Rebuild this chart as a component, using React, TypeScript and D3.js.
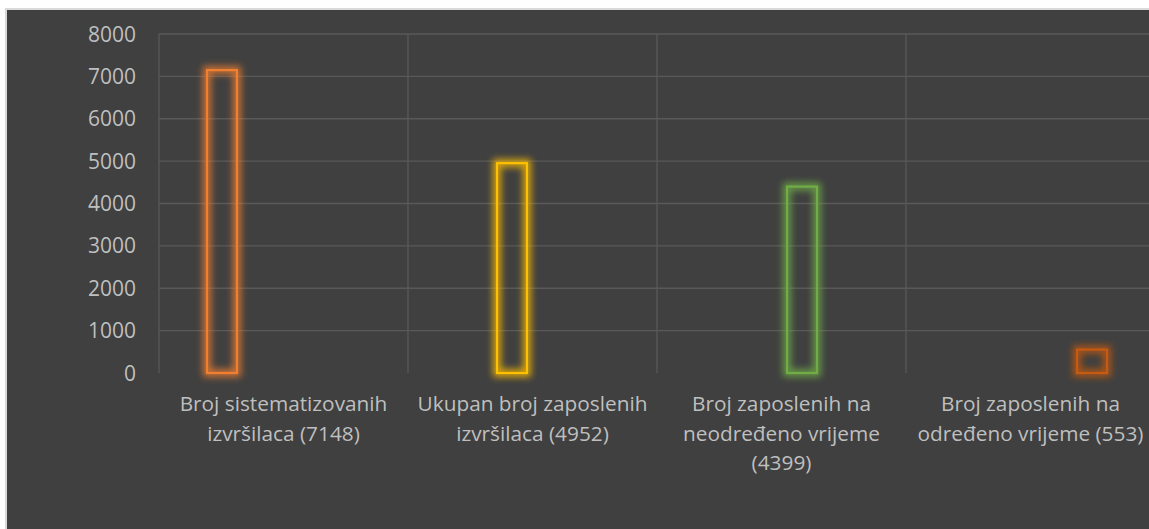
import React from "react";
import * as d3 from "d3";

const categories = [
  "Broj sistematizovanih\nizvršilaca (7148)",
  "Ukupan broj zaposlenih\nizvršilaca (4952)",
  "Broj zaposlenih na\nneodređeno vrijeme\n(4399)",
  "Broj zaposlenih na\nodređeno vrijeme (553)",
];
const seriesNames = ["s1", "s2", "s3", "s4"];
const values = [7148, 4952, 4399, 553];
const seriesColors = ["#F07F30", "#FFC000", "#70AD47", "#C55A11"];
const yTicks = [0, 1000, 2000, 3000, 4000, 5000, 6000, 7000, 8000];

const W = 1149;
const H = 529;
const plotLeft = 159;
const plotRight = 1155;
const plotTop = 34;
const plotBottom = 373;
const FONT = "'Open Sans', 'DejaVu Sans', sans-serif";
const TEXT = "#bfbfbf";

export default function App() {
  const y = d3.scaleLinear().domain([0, 8000]).range([plotBottom, plotTop]);
  const x0 = d3.scaleBand<string>().domain(categories).range([plotLeft, plotRight]).padding(0);
  const x1 = d3
    .scaleBand<string>()
    .domain(seriesNames)
    .range([0, x0.bandwidth()])
    .paddingInner(0.27)
    .paddingOuter(1.17);

  return (
    <svg
      width={W}
      height={H}
      style={{ position: "fixed", left: 0, top: 0, display: "block" }}
    >
      <defs>
        <filter id="glow" x="-50%" y="-50%" width="200%" height="200%">
          <feGaussianBlur stdDeviation="3.5" />
        </filter>
      </defs>
      <rect x={0} y={0} width={W} height={H} fill="#ffffff" />
      <rect x={5} y={8} width={W} height={H} fill="#d9d9d9" />
      <rect x={7} y={10} width={W} height={H} fill="#404040" />

      {yTicks
        .filter((t) => t > 0)
        .map((t) => (
          <line
            key={"h" + t}
            x1={plotLeft}
            x2={W}
            y1={y(t)}
            y2={y(t)}
            stroke="#595959"
            strokeWidth={1.3}
          />
        ))}
      {categories.map((c) => (
        <line
          key={"v" + c}
          x1={x0(c)!}
          x2={x0(c)!}
          y1={plotTop}
          y2={plotBottom}
          stroke="#595959"
          strokeWidth={1.3}
        />
      ))}

      {yTicks.map((t) => (
        <text
          key={"t" + t}
          x={136}
          y={y(t)}
          dy="0.36em"
          textAnchor="end"
          fontFamily={FONT}
          fontSize={21}
          fill={TEXT}
        >
          {t}
        </text>
      ))}

      {values.map((v, i) => {
        const bx = x0(categories[i])! + x1(seriesNames[i])!;
        const bw = x1.bandwidth();
        const by = y(v);
        const bh = y(0) - y(v);
        return (
          <g key={"b" + i}>
            <rect
              x={bx}
              y={by}
              width={bw}
              height={bh}
              fill="none"
              stroke={seriesColors[i]}
              strokeWidth={8}
              opacity={0.8}
              filter="url(#glow)"
            />
            <rect
              x={bx}
              y={by}
              width={bw}
              height={bh}
              fill="none"
              stroke={seriesColors[i]}
              strokeWidth={2.2}
            />
          </g>
        );
      })}

      {categories.map((c) => {
        const cx = x0(c)! + x0.bandwidth() / 2;
        return (
          <text
            key={"c" + c}
            x={cx}
            y={411}
            textAnchor="middle"
            fontFamily={FONT}
            fontSize={20.8}
            fill={TEXT}
          >
            {c.split("\n").map((line, j) => (
              <tspan key={j} x={cx} y={411 + j * 29.5}>
                {line}
              </tspan>
            ))}
          </text>
        );
      })}
    </svg>
  );
}
